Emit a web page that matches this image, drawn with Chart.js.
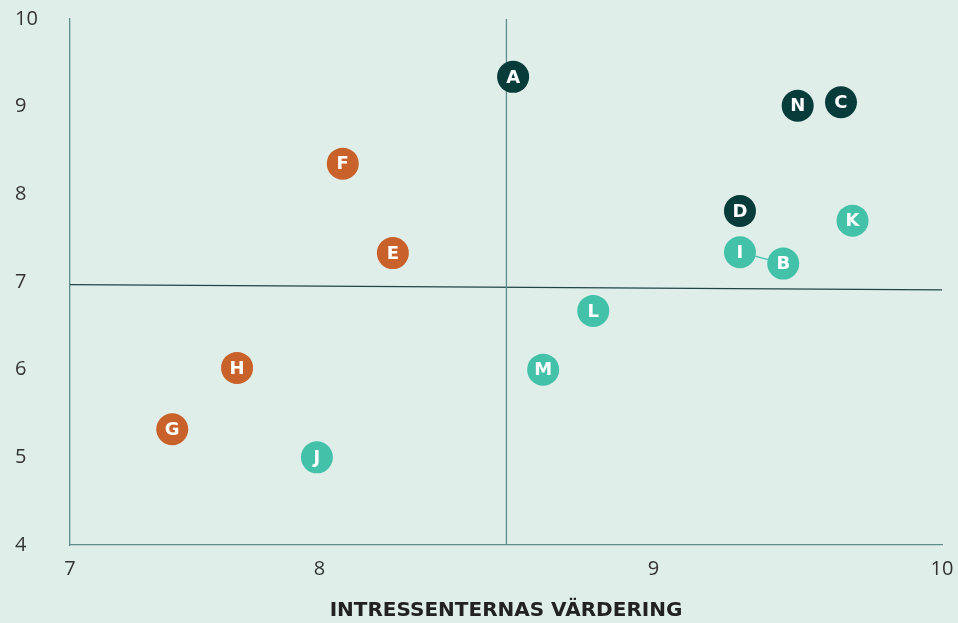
<!DOCTYPE html>
<html>
<head>
<meta charset="utf-8">
<script src="https://cdn.jsdelivr.net/npm/chart.js@4.4.1/dist/chart.umd.min.js"></script>
<style>
    html, body { margin: 0; padding: 0; background: #e0eeea; }
    #wrap { width: 958px; height: 623px; }
</style>
</head>
<body>
<div id="wrap"><canvas id="matris"></canvas></div>
<script>
// ── Data ──
const letters = ['A', 'B', 'C', 'D', 'E', 'F', 'G', 'H', 'I', 'J', 'K', 'L', 'M', 'N'];
const xVals   = [8.58, 9.45, 9.65, 9.30, 8.22, 8.07, 7.41, 7.67, 9.30, 7.99, 9.69, 8.82, 8.67, 9.50];
const yVals   = [9.34, 7.21, 9.05, 7.81, 7.33, 8.35, 5.32, 6.02, 7.34, 5.00, 7.70, 6.67, 6.00, 9.01];
const grupper = ['dark', 'teal', 'dark', 'dark', 'orange', 'orange', 'orange', 'orange', 'teal', 'teal', 'teal', 'teal', 'teal', 'dark'];

const xTicks = [7, 8, 9, 10];
const yTicks = [4, 5, 6, 7, 8, 9, 10];

// kvadrantlinjer
const vLinjeX = 8.56;
const hLinjeY = [6.97, 6.91];
const koppling = ['I', 'B'];

const FARGER = { dark: '#083c3b', orange: '#c9622a', teal: '#44c1a9' };
const AXEL   = '#5e8d8a';

// x-axeln i originalet är inte jämnt fördelad
class StyckvisSkala extends Chart.LinearScale {
    static id = 'styckvis';
    static defaults = Chart.LinearScale.defaults;

    _bp() { return this.options.brytpunkter; }

    getPixelForValue(v) {
        const bp = this._bp();
        let f = 0;
        if (v <= bp[0][0]) f = bp[0][1];
        else if (v >= bp[bp.length - 1][0]) f = bp[bp.length - 1][1];
        else {
            for (let i = 0; i < bp.length - 1; i++) {
                const [v0, f0] = bp[i], [v1, f1] = bp[i + 1];
                if (v >= v0 && v <= v1) { f = f0 + (v - v0) / (v1 - v0) * (f1 - f0); break; }
            }
        }
        return this.getPixelForDecimal(f);
    }

    getValueForPixel(p) {
        const bp = this._bp();
        const f = this.getDecimalForPixel(p);
        for (let i = 0; i < bp.length - 1; i++) {
            const [v0, f0] = bp[i], [v1, f1] = bp[i + 1];
            if (f >= f0 && f <= f1) return v0 + (f - f0) / (f1 - f0) * (v1 - v0);
        }
        return f < 0 ? bp[0][0] : bp[bp.length - 1][0];
    }
}
Chart.register(StyckvisSkala);

function punkter(grupp) {
    const ut = [];
    letters.forEach((l, i) => {
        if (grupper[i] === grupp) ut.push({ x: xVals[i], y: yVals[i], etikett: l });
    });
    return ut;
}

function punktFor(l) {
    const i = letters.indexOf(l);
    return { x: xVals[i], y: yVals[i] };
}

const punktSet = ['dark', 'orange', 'teal'].map(g => ({
    type: 'scatter',
    data: punkter(g),
    backgroundColor: FARGER[g],
    borderWidth: 0,
    pointRadius: 16,
    pointHoverRadius: 16,
    order: 1,
}));

const linjeSet = [
    {
        type: 'line',
        data: [{ x: vLinjeX, y: 4 }, { x: vLinjeX, y: 10 }],
        borderColor: AXEL, borderWidth: 1.3, pointRadius: 0, order: 3,
    },
    {
        type: 'line',
        data: [{ x: 7, y: hLinjeY[0] }, { x: 10, y: hLinjeY[1] }],
        borderColor: '#1f4544', borderWidth: 1.2, pointRadius: 0, order: 3,
    },
    {
        type: 'line',
        data: koppling.map(punktFor),
        borderColor: FARGER.teal, borderWidth: 1.2, pointRadius: 0, order: 2,
    },
];

// ── Plugins ──
const bakgrund = {
    id: 'bakgrund',
    beforeDraw(chart) {
        const c = chart.ctx;
        c.save();
        c.fillStyle = '#e0eeea';
        c.fillRect(0, 0, chart.width, chart.height);
        c.restore();
    }
};

const bokstaver = {
    id: 'bokstaver',
    afterDatasetsDraw(chart) {
        const c = chart.ctx;
        c.save();
        c.fillStyle = '#ffffff';
        c.font = 'bold 18px "DejaVu Sans", sans-serif';
        c.textAlign = 'center';
        c.textBaseline = 'middle';
        chart.data.datasets.forEach((ds, di) => {
            if (ds.type !== 'scatter') return;
            chart.getDatasetMeta(di).data.forEach((el, i) => {
                c.fillText(ds.data[i].etikett, el.x, el.y + 1);
            });
        });
        c.restore();
    }
};

new Chart(document.getElementById('matris'), {
    type: 'scatter',
    data: { datasets: [...punktSet, ...linjeSet] },
    options: {
        responsive: true,
        maintainAspectRatio: false,
        animation: false,
        layout: { padding: { left: 15, right: 10, top: 19, bottom: 0 } },
        plugins: { legend: { display: false }, tooltip: { enabled: false } },
        scales: {
            x: {
                type: 'styckvis',
                min: 7, max: 10,
                brytpunkter: [[7, 0], [8, 0.286], [9, 0.669], [10, 1]],
                afterBuildTicks: s => { s.ticks = xTicks.map(v => ({ value: v })); },
                afterFit: s => { s.height = 78; s.paddingLeft = 0; s.paddingRight = 0; },
                grid: { display: false, drawTicks: false },
                border: { display: true, color: AXEL, width: 1.3 },
                ticks: {
                    color: '#333333', padding: 12,
                    font: { family: 'Open Sans', size: 20 },
                    maxRotation: 0,
                    callback: v => v,
                },
                title: {
                    display: true,
                    text: 'INTRESSENTERNAS VÄRDERING',
                    color: '#222222',
                    font: { family: 'DejaVu Sans', size: 20, weight: 'bold' },
                    padding: { top: 16, bottom: 0 },
                },
            },
            y: {
                min: 4, max: 10,
                afterBuildTicks: s => { s.ticks = yTicks.map(v => ({ value: v })); },
                afterFit: s => { s.width = 55; },
                grid: { display: false, drawTicks: false },
                border: { display: true, color: AXEL, width: 1.3 },
                ticks: {
                    color: '#333333', crossAlign: 'far',
                    font: { family: 'Open Sans', size: 20 },
                    callback: v => v,
                },
            },
        },
    },
    plugins: [bakgrund, bokstaver],
});
</script>
</body>
</html>
